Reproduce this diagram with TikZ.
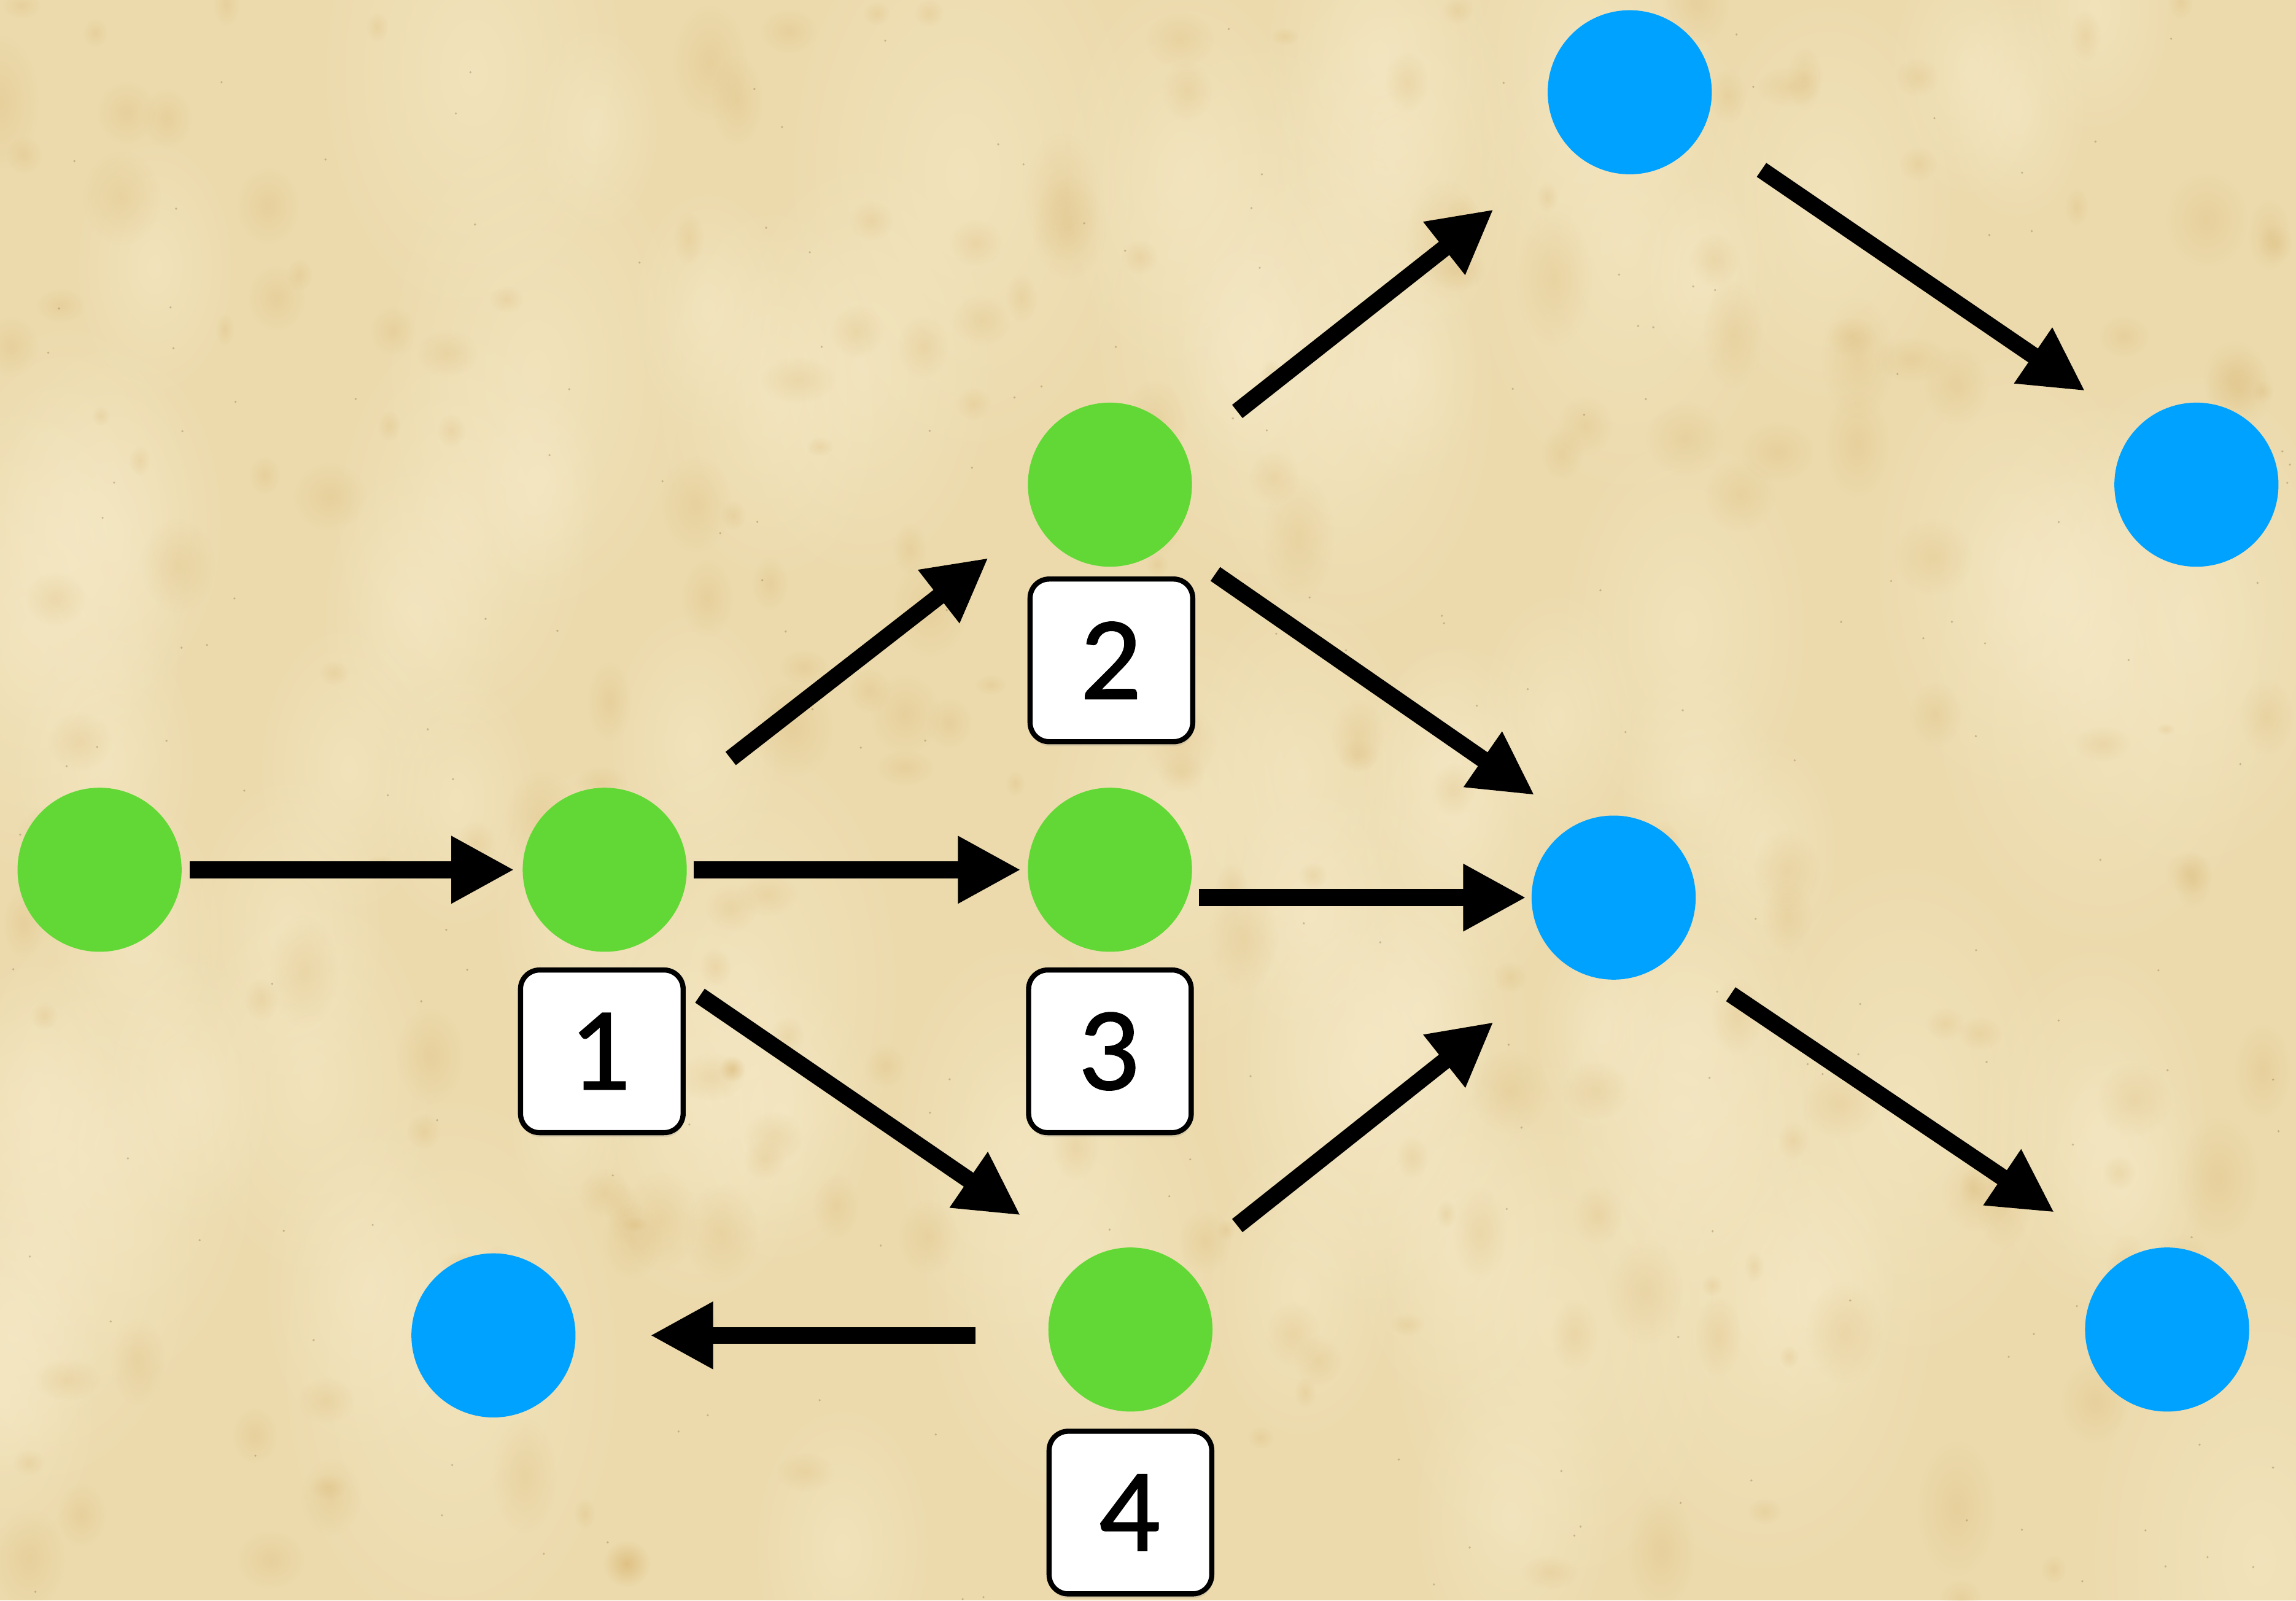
\documentclass[tikz,border=0pt]{standalone}
\usepackage{fontspec}
\setmainfont{Lato}
\newfontfamily\numfont[FakeBold=1.6]{Lato}
\usetikzlibrary{arrows.meta,shadows,fadings}
\tikzfading[name=softdot, inner color=transparent!0, outer color=transparent!100]
\definecolor{paper}{RGB}{236,218,172}
\definecolor{stain}{RGB}{210,168,92}
\definecolor{light}{RGB}{246,234,200}
\definecolor{speck}{RGB}{110,80,40}
\definecolor{gnode}{RGB}{98,216,54}
\definecolor{bnode}{RGB}{0,162,255}
\tikzset{
  gdot/.style={circle,fill=gnode,minimum size=1.12cm,inner sep=0pt},
  bdot/.style={circle,fill=bnode,minimum size=1.12cm,inner sep=0pt},
  numbox/.style={draw=black,line width=1pt,fill=white,rounded corners=0.13cm,
    minimum size=1.11cm,inner sep=0pt,font=\numfont\fontsize{20.5}{24}\selectfont,
    drop shadow={opacity=0.2,shadow xshift=0.005cm,shadow yshift=-0.03cm}},
  conn/.style={line width=0.115cm,-{Triangle[length=0.43cm,width=0.43cm]}},
  blot/.style={fill=stain,path fading=softdot},
  pale/.style={fill=light,path fading=softdot}
}
\begin{document}
\begin{tikzpicture}[x=0.01cm,y=-0.01cm]
\fill[paper] (0,0) rectangle (1568,1093);
\useasboundingbox (0,0) rectangle (1568,1093);
% paper texture
\begin{scope}
\clip (0,0) rectangle (1568,1093);
\pgfmathsetseed{11}
\foreach \i in {1,...,80}{
  \pgfmathsetmacro\px{rnd*1568}
  \pgfmathsetmacro\py{rnd*1093}
  \pgfmathsetmacro\pr{40+rnd*90}
  \fill[pale,opacity=0.55] (\px,\py) ellipse [x radius=\pr, y radius=1.6*\pr];
}
\foreach \i in {1,...,220}{
  \pgfmathsetmacro\px{rnd*1568}
  \pgfmathsetmacro\py{rnd*1093}
  \pgfmathsetmacro\pr{6+rnd*22}
  \pgfmathsetmacro\pq{0.6+rnd*1.2}
  \fill[blot,opacity=0.2] (\px,\py) ellipse [x radius=\pr, y radius=\pq*\pr];
}
\foreach \i in {1,...,200}{
  \pgfmathsetmacro\px{rnd*1568}
  \pgfmathsetmacro\py{rnd*1093}
  \fill[speck,opacity=0.3] (\px,\py) circle (0.8);
}
\fill[blot,opacity=0.5] (428,1068) circle (16);
\fill[blot,opacity=0.45] (500,730) circle (9);
\end{scope}
% nodes
\node[gdot] (A)  at (68,594) {};
\node[gdot] (N1) at (413,594) {};
\node[gdot] (N2) at (758,331) {};
\node[gdot] (N3) at (758,594) {};
\node[gdot] (N4) at (772,908) {};
\node[bdot] (BT) at (1113,63) {};
\node[bdot] (BR) at (1500,331) {};
\node[bdot] (BM) at (1102,613) {};
\node[bdot] (BB) at (1480,908) {};
\node[bdot] (BL) at (337,912) {};
% labels
\node[numbox] (L1) at (411,718) {1};
\node[numbox] (L2) at (759,451) {2};
\node[numbox] (L3) at (758,718) {3};
\node[numbox] (L4) at (772,1033) {4};
% connectors
\draw[conn,shorten <=0.05cm,shorten >=0.05cm] (A) -- (N1);
\draw[conn,shorten <=0.04cm,shorten >=0.04cm] (N1) -- (N3);
\draw[conn,shorten <=0.04cm,shorten >=0.03cm] (BM -| N3.east) -- (BM.west);
\draw[conn] ([shift={(86,-76)}]N1.center) -- ([shift={(-83,50)}]N2.center);
\draw[conn] ([shift={(65,86)}]N1.center) -- ([shift={(-75,-78)}]N4.center);
\draw[conn] ([shift={(87,-50)}]N2.center) -- ([shift={(-93,80)}]BT.center);
\draw[conn] ([shift={(72,61)}]N2.center) -- ([shift={(-54,-70)}]BM.center);
\draw[conn] ([shift={(73,-71)}]N4.center) -- ([shift={(-82,85)}]BM.center);
\draw[conn] ([shift={(-106,4)}]N4.center) -- ([shift={(107,0)}]BL.center);
\draw[conn] ([shift={(90,53)}]BT.center) -- ([shift={(-76,-64)}]BR.center);
\draw[conn] ([shift={(80,66)}]BM.center) -- ([shift={(-77,-80)}]BB.center);
\end{tikzpicture}
\end{document}
